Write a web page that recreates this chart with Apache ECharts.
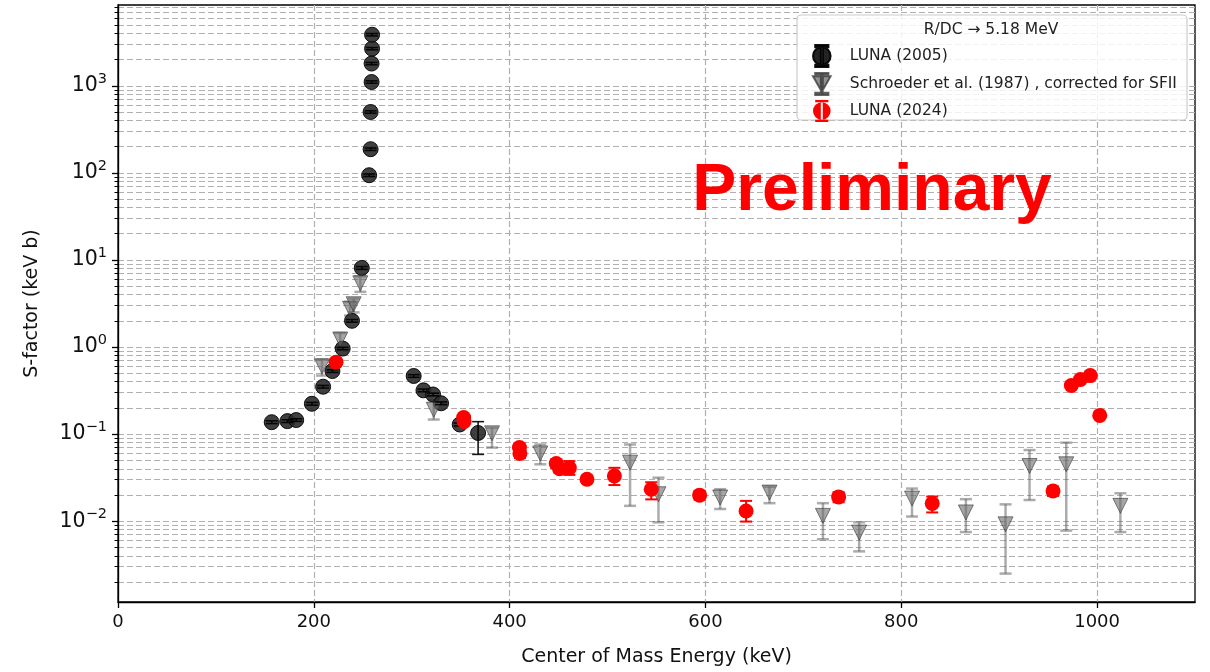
<!DOCTYPE html>
<html>
<head>
<meta charset="utf-8">
<script src="https://cdn.jsdelivr.net/npm/echarts@6/dist/echarts.min.js"></script>
<style>
  html, body { margin: 0; padding: 0; background: #fff; }
  #chart { width: 1210px; height: 672px; }
</style>
</head>
<body>
<div id="chart"></div>
<script>
// LUNA (2005) - black circles
const luna2005E  = [157, 173, 182, 198, 209.5, 219, 229.5, 239, 249, 256.5, 258, 258, 259, 259, 259.5, 259.5, 302, 312, 321.8, 330, 349, 367.8];
const luna2005S  = [0.137, 0.141, 0.145, 0.223, 0.35, 0.53, 0.96, 2.0, 8.1, 94, 187, 500, 1105, 1800, 2670, 3860, 0.465, 0.318, 0.285, 0.226, 0.129, 0.103];
const luna2005Lo = [0.132, 0.136, 0.140, 0.215, 0.338, 0.512, 0.93, 1.93, 7.8, 91, 181, 484, 1070, 1745, 2590, 3740, 0.449, 0.307, 0.275, 0.218, 0.124, 0.0585];
const luna2005Hi = [0.142, 0.146, 0.150, 0.231, 0.362, 0.548, 0.99, 2.07, 8.4, 97, 193, 516, 1140, 1855, 2750, 3980, 0.481, 0.329, 0.295, 0.234, 0.134, 0.139];

// Schroeder et al. (1987), corrected for SFII - gray triangles
const schE  = [208.4, 227, 237, 240.7, 247.5, 322.5, 382, 431.3, 523, 552, 615, 665.4, 720, 757, 811, 866, 906.5, 931, 968.5, 1023.8];
const schS  = [0.60, 1.22, 2.75, 3.1, 5.4, 0.19, 0.102, 0.060, 0.047, 0.0204, 0.0187, 0.0213, 0.0115, 0.0074, 0.0182, 0.0126, 0.0092, 0.043, 0.045, 0.0150];
const schLo = [0.47, 0.98, 2.3, 2.5, 4.3, 0.147, 0.070, 0.045, 0.0150, 0.0097, 0.0138, 0.0161, 0.0062, 0.0045, 0.0113, 0.0075, 0.0025, 0.0175, 0.0078, 0.0075];
const schHi = [0.72, 1.45, 3.3, 3.6, 6.5, 0.245, 0.118, 0.076, 0.076, 0.0316, 0.0233, 0.0249, 0.0161, 0.0097, 0.0237, 0.0179, 0.0156, 0.0656, 0.0797, 0.0209];

// LUNA (2024) - red circles
const luna2024E  = [222.7, 353, 353.5, 410, 410.5, 447.6, 451, 461, 479, 507, 544.6, 594, 641.5, 736, 831.6, 955, 973.7, 983, 993, 1002.7];
const luna2024S  = [0.67, 0.155, 0.14, 0.070, 0.060, 0.046, 0.040, 0.041, 0.0303, 0.033, 0.0233, 0.0199, 0.0131, 0.019, 0.016, 0.0222, 0.361, 0.424, 0.47, 0.164];
const luna2024Lo = [0.63, 0.145, 0.131, 0.063, 0.053, 0.041, 0.036, 0.034, 0.0275, 0.026, 0.0178, 0.0177, 0.0099, 0.0165, 0.0126, 0.0195, 0.345, 0.405, 0.45, 0.153];
const luna2024Hi = [0.71, 0.165, 0.149, 0.078, 0.067, 0.051, 0.044, 0.049, 0.0333, 0.041, 0.028, 0.0222, 0.0171, 0.0215, 0.0192, 0.0250, 0.377, 0.443, 0.49, 0.175];

// axis ticks
const xTicks = [0, 200, 400, 600, 800, 1000];
const yMajor = [0.01, 0.1, 1, 10, 100, 1000];
const yMinor = [];
[0.001, 0.01, 0.1, 1, 10, 100, 1000].forEach(d => {
  for (let k = 2; k <= 9; k++) yMinor.push(+(k * d).toPrecision(3));
});

const FONT = 'DejaVu Sans';
const Y_MIN = 0.00118, Y_MAX = 8470;

const pts = (e, s) => e.map((x, i) => [x, s[i]]);
const bars = (e, lo, hi) => e.map((x, i) => [x, lo[i], hi[i]]);

// errorbar drawing through the axes
const errorBar = (color, width, cap) => (params, api) => {
  const x = api.value(0);
  const a = api.coord([x, api.value(1)]);
  const b = api.coord([x, api.value(2)]);
  const style = { stroke: color, lineWidth: width, fill: null };
  return {
    type: 'group',
    children: [
      { type: 'line', shape: { x1: a[0], y1: a[1], x2: b[0], y2: b[1] }, style },
      { type: 'line', shape: { x1: a[0] - cap, y1: a[1], x2: a[0] + cap, y2: a[1] }, style },
      { type: 'line', shape: { x1: b[0] - cap, y1: b[1], x2: b[0] + cap, y2: b[1] }, style }
    ]
  };
};

const circleIcon = 'path://M2,10a8,8 0 1,0 16,0a8,8 0 1,0 -16,0Z M9.1,1.2h1.8v17.6h-1.8Z M4,0h12v2h-12Z M4,18h12v2h-12Z';
const triIcon = 'path://M2,3h16l-8,14Z M9.1,1.2h1.8v17.6h-1.8Z M4,0h12v2h-12Z M4,18h12v2h-12Z';

const gridDash = { type: [6, 3], color: '#b0b0b0', width: 1.2 };

const chart = echarts.init(document.getElementById('chart'));
chart.setOption({
  animation: false,
  backgroundColor: '#fff',
  textStyle: { fontFamily: FONT },
  grid: { left: 118, right: 15, top: 5, bottom: 69, show: true, borderColor: '#000', borderWidth: 1.3 },
  xAxis: {
    type: 'value', min: 0, max: 1100, interval: 200,
    name: 'Center of Mass Energy (keV)', nameLocation: 'middle', nameGap: 46,
    nameTextStyle: { fontSize: 19, color: '#111', fontFamily: FONT },
    axisLine: { lineStyle: { color: '#000', width: 1.3 } },
    axisTick: { customValues: xTicks, length: 6, lineStyle: { color: '#000', width: 1.3 } },
    axisLabel: { customValues: xTicks, margin: 11, fontSize: 18, color: '#111', fontFamily: FONT, formatter: v => String(v) },
    splitLine: { show: true, lineStyle: gridDash }
  },
  yAxis: [
    {
      type: 'log', logBase: 10, min: Y_MIN, max: Y_MAX,
      name: 'S-factor (keV b)', nameLocation: 'middle', nameGap: 76, nameRotate: 90,
      nameTextStyle: { fontSize: 19, color: '#111', fontFamily: FONT },
      axisLine: { show: true, lineStyle: { color: '#000', width: 1.3 } },
      axisTick: { customValues: yMajor, length: 6, lineStyle: { color: '#000', width: 1.3 } },
      axisLabel: {
        customValues: yMajor, margin: 11, color: '#111',
        formatter: v => {
          const e = Math.round(Math.log10(v));
          return '{b|10}{s|' + (e < 0 ? '\u2212' + (-e) : e) + '}';
        },
        rich: {
          b: { fontSize: 20.5, fontFamily: FONT, color: '#111', lineHeight: 28 },
          s: { fontSize: 14.5, fontFamily: FONT, color: '#111', lineHeight: 15, verticalAlign: 'top' }
        }
      },
      splitLine: { show: true, lineStyle: gridDash }
    },
    {
      type: 'log', logBase: 10, min: Y_MIN, max: Y_MAX, position: 'left',
      axisLine: { show: false },
      axisTick: { customValues: yMinor, length: 3.5, lineStyle: { color: '#000', width: 1 } },
      axisLabel: { show: false },
      splitLine: { show: true, lineStyle: gridDash }
    }
  ],
  legend: {
    left: 812, top: 44, orient: 'vertical',
    itemWidth: 20, itemHeight: 22, itemGap: 4, padding: 0,
    textStyle: { fontSize: 15.5, color: '#222', fontFamily: FONT, padding: [0, 0, 0, 13] },
    data: [
      { name: 'LUNA (2005)', icon: circleIcon, itemStyle: { color: '#111', opacity: 0.92 } },
      { name: 'Schroeder et al. (1987) , corrected for SFII', icon: triIcon, itemStyle: { color: '#6e6e6e', opacity: 0.75 } },
      { name: 'LUNA (2024)', icon: circleIcon, itemStyle: { color: '#ff0000', opacity: 1 } }
    ]
  },
  graphic: [
    {
      type: 'rect', z: 3, silent: true,
      shape: { x: 797, y: 15, width: 390, height: 105, r: 4 },
      style: { fill: 'rgba(255,255,255,0.82)', stroke: '#cccccc', lineWidth: 1.2 }
    },
    {
      type: 'text', z: 5, silent: true, x: 991, y: 30,
      style: { text: 'R/DC \u2192 5.18 MeV', fontSize: 15.5, fontFamily: FONT, fill: '#222', align: 'center', verticalAlign: 'middle' }
    },
    {
      type: 'text', z: 10, silent: true, x: 872, y: 192,
      style: { text: 'Preliminary', fontSize: 66, fontWeight: 'bold', fontFamily: 'Liberation Sans', fill: '#ff0000', align: 'center', verticalAlign: 'middle' }
    }
  ],
  series: [
    {
      type: 'custom', z: 1, silent: true, clip: true,
      renderItem: errorBar('rgba(90,90,90,0.5)', 2.5, 6),
      encode: { x: 0, y: [1, 2] },
      data: bars(schE, schLo, schHi)
    },
    {
      type: 'custom', z: 3, silent: true, clip: true,
      renderItem: errorBar('rgba(0,0,0,0.9)', 1.6, 6),
      encode: { x: 0, y: [1, 2] },
      data: bars(luna2005E, luna2005Lo, luna2005Hi)
    },
    {
      type: 'custom', z: 3, silent: true, clip: true,
      renderItem: errorBar('#ff0000', 2, 6),
      encode: { x: 0, y: [1, 2] },
      data: bars(luna2024E, luna2024Lo, luna2024Hi)
    },
    {
      name: 'LUNA (2005)', type: 'scatter', z: 2,
      symbol: 'circle', symbolSize: 15,
      itemStyle: { color: '#2a2a2a', opacity: 0.9, borderColor: '#000', borderWidth: 1 },
      data: pts(luna2005E, luna2005S)
    },
    {
      name: 'Schroeder et al. (1987) , corrected for SFII', type: 'scatter', z: 2,
      symbol: 'triangle', symbolRotate: 180, symbolSize: 15,
      itemStyle: { color: '#6a6a6a', opacity: 0.6, borderColor: '#333', borderWidth: 1 },
      data: pts(schE, schS)
    },
    {
      name: 'LUNA (2024)', type: 'scatter', z: 4,
      symbol: 'circle', symbolSize: 15,
      itemStyle: { color: '#ff0000', opacity: 1 },
      data: pts(luna2024E, luna2024S)
    }
  ]
});
</script>
</body>
</html>
